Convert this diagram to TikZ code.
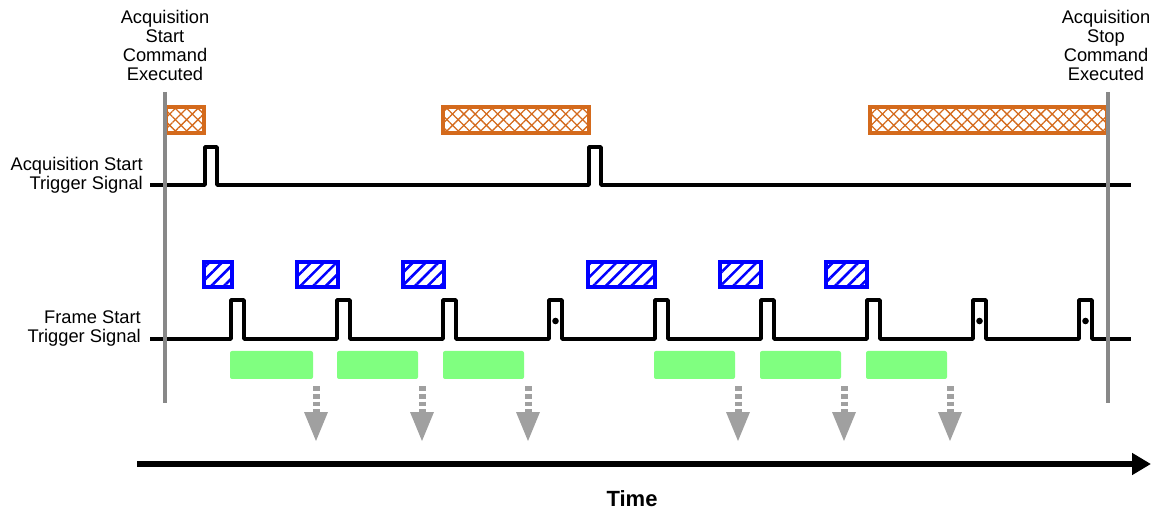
\documentclass[tikz,border=0pt]{standalone}
\usepackage{fontspec}
\setmainfont{Liberation Sans}
\usetikzlibrary{patterns.meta,arrows.meta}
\definecolor{cmdorange}{RGB}{212,106,28}
\definecolor{trigblue}{RGB}{0,0,255}
\definecolor{readgreen}{RGB}{128,255,128}
\definecolor{markgray}{RGB}{136,136,136}
\definecolor{arrgray}{RGB}{160,160,160}
\tikzset{
  lbl/.style={font=\fontsize{18.3}{19}\selectfont, inner sep=0pt},
  sig/.style={line width=3.6pt, line join=round},
  marker/.style={draw=markgray, line width=3.5pt},
  waitbox/.style={draw=cmdorange, line width=3.4pt,
    postaction={pattern={Lines[angle=45,distance=8pt,line width=1.3pt]}, pattern color=cmdorange},
    postaction={pattern={Lines[angle=-45,distance=8pt,line width=1.3pt]}, pattern color=cmdorange}},
  trigbox/.style={draw=trigblue, line width=3.2pt,
    pattern={Lines[angle=45,distance=9pt,line width=2.6pt]}, pattern color=trigblue},
  readbox/.style={fill=readgreen, rounded corners=2pt},
  stem/.style={draw=arrgray, line width=7pt, dash pattern=on 4.5pt off 3pt},
  head/.style={fill=arrgray},
}
\begin{document}
\begin{tikzpicture}[x=1pt,y=-1pt]
\useasboundingbox (0,0) rectangle (1151,510);
% labels
\node[lbl, align=center] (startcmd) at (165,45.5) {Acquisition\\Start\\Command\\Executed};
\node[lbl, align=center] (stopcmd) at (1106,45.5) {Acquisition\\Stop\\Command\\Executed};
\node[lbl, align=right, anchor=east] (asig) at (143,175.5) {Acquisition Start\\Trigger Signal};
\node[lbl, align=right, anchor=east] (fsig) at (141,329) {Frame Start\\Trigger Signal};
% orange wait boxes
\path[waitbox] (166,107) rectangle (204,133);
\path[waitbox] (443,107) rectangle (589,133);
\path[waitbox] (870,107) rectangle (1107,133);
% acquisition start signal
\draw[sig] (150,185) -- (205,185) -- (205,147) -- (217,147) -- (217,185)
  -- (589,185) -- (589,147) -- (601,147) -- (601,185) -- (1131,185);
% blue trigger boxes
\foreach \a/\b in {204/232, 297/338, 403/444, 588/655, 720/761, 826/867}
  \path[trigbox] (\a,262) rectangle (\b,287);
% frame start signal
\draw[sig] (150,339) \foreach \x in {231,337,443,549,655,761,867,973,1079}
  { -- (\x,339) -- (\x,300) -- (\x+13,300) -- (\x+13,339) } -- (1131,339);
\foreach \x in {555.5,979.5,1085.5}
  \fill (\x,321) circle (3.3pt);
% green readout boxes
\foreach \a/\b in {230/313, 337/418, 443/524, 654/735, 760/841, 866/947}
  \path[readbox] (\a,351) rectangle (\b,379);
% gray arrows
\foreach \x [count=\i] in {316,422,528,738,844,950} {
  \coordinate (s\i) at (\x,386.5);
  \coordinate (e\i) at (\x,412);
  \draw[stem] (s\i) -- (e\i);
  \path[head] (\x-12,412) -- (\x+12,412) -- (\x,441) -- cycle;
}
% marker lines
\draw[marker] (165,92) -- (165,403);
\draw[marker] (1108,92) -- (1108,403);
% time axis
\coordinate (t0) at (137,464);
\coordinate (t1) at (1151,464);
\draw[line width=6.5pt, -{Triangle[length=19pt,width=21pt]}] (t0) -- (t1);
\node[font=\fontsize{22}{24}\selectfont\bfseries, inner sep=0pt] (time) at (632,499) {Time};
\end{tikzpicture}
\end{document}
